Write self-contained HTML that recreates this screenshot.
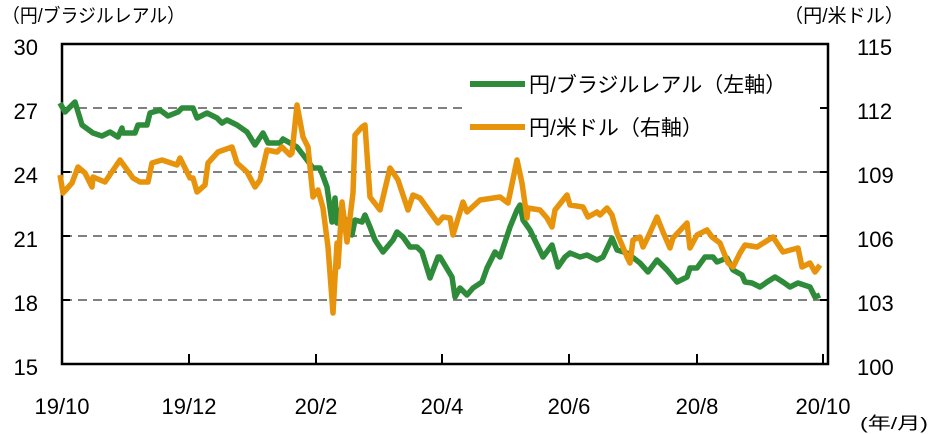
<!DOCTYPE html>
<html><head><meta charset="utf-8"><style>
body{margin:0;background:#fff;}
svg{display:block;}
text{font-family:"Liberation Sans","Noto Sans CJK JP",sans-serif;fill:#000;}
</style></head><body>
<svg width="934" height="434" viewBox="0 0 934 434" xmlns="http://www.w3.org/2000/svg">
<g stroke="#808080" stroke-width="2" stroke-dasharray="9,6" fill="none">
<line x1="63" y1="108" x2="465" y2="108"/>
<line x1="63" y1="172" x2="827" y2="172"/>
<line x1="63" y1="236" x2="827" y2="236"/>
<line x1="63" y1="300" x2="827" y2="300"/>
</g>
<rect x="62" y="44" width="766" height="320" fill="none" stroke="#000" stroke-width="2.5"/>
<g stroke="#000" stroke-width="2">
<line x1="189" y1="364" x2="189" y2="354"/><line x1="316" y1="364" x2="316" y2="354"/>
<line x1="442" y1="364" x2="442" y2="354"/><line x1="569" y1="364" x2="569" y2="354"/>
<line x1="697" y1="364" x2="697" y2="354"/><line x1="823" y1="364" x2="823" y2="354"/>
<line x1="62" y1="108" x2="70" y2="108"/><line x1="62" y1="172" x2="70" y2="172"/><line x1="62" y1="236" x2="70" y2="236"/><line x1="62" y1="300" x2="70" y2="300"/>
<line x1="828" y1="108" x2="820" y2="108"/><line x1="828" y1="172" x2="820" y2="172"/><line x1="828" y1="236" x2="820" y2="236"/><line x1="828" y1="300" x2="820" y2="300"/>
</g>
<polyline fill="none" stroke="#2e8b3a" stroke-width="5.5" stroke-linejoin="round" points="60,103 65,112 75,102 82,125 93,133 102,136 110,132 118,137 122,128 123,133 135,133 138,125 147,125 150,113 160,110 168,116 178,112 182,108 193,108 197,118 207,113 217,118 222,123 227,120 237,125 247,132 255,145 263,133 268,143 280,143 283,139 297,147 307,160 313,168 320,168 327,187 332,222 335,198 337,223 340,210 347,223 352,235 355,220 362,222 365,215 370,227 375,240 383,252 393,240 397,232 403,237 410,247 417,247 422,252 430,278 438,257 440,257 452,277 455,297 460,288 467,295 473,288 482,282 487,268 495,252 500,257 510,227 517,210 520,205 523,220 530,230 543,257 552,245 558,267 565,257 570,253 580,257 587,255 597,260 603,257 612,238 617,250 627,253 640,263 648,272 657,260 667,270 677,282 687,277 690,268 697,268 705,257 713,257 717,262 727,258 733,270 742,275 745,282 752,283 760,287 767,282 775,277 783,282 790,287 798,283 810,287 815,297 820,295"/>
<polyline fill="none" stroke="#e8930c" stroke-width="5.5" stroke-linejoin="round" points="60,175 63,193 72,183 78,167 85,173 92,187 93,177 105,182 120,160 133,178 140,182 148,182 152,163 162,160 177,165 180,158 190,178 193,178 197,192 205,185 208,163 218,152 232,147 237,163 247,172 255,187 260,180 267,150 277,152 282,147 290,155 292,153 297,105 303,137 308,147 313,197 318,190 323,208 328,247 333,313 337,243 338,267 342,202 347,242 353,193 355,135 362,127 365,125 370,197 380,210 390,168 398,180 408,210 413,195 420,198 438,223 443,217 450,218 453,235 463,202 467,212 480,200 500,197 508,203 517,160 522,183 527,218 528,208 540,210 547,218 552,227 555,210 567,195 570,205 583,207 588,217 597,212 600,215 607,208 612,215 617,233 627,257 630,263 633,240 640,237 643,247 648,237 657,217 663,232 670,248 673,238 687,223 690,248 697,235 707,230 712,237 720,243 728,263 733,267 740,253 745,245 757,247 765,242 773,237 783,252 798,248 802,267 810,263 815,272 820,265"/>
<rect x="466" y="62" width="330" height="88" fill="#fff"/>
<line x1="470" y1="84" x2="525" y2="84" stroke="#2e8b3a" stroke-width="6"/>
<line x1="470" y1="127" x2="525" y2="127" stroke="#e8930c" stroke-width="6"/>
<text x="529" y="92" font-size="21">円/ブラジルレアル（左軸）</text>
<text x="529" y="135" font-size="21">円/米ドル（右軸）</text>
<text x="2" y="22" font-size="19" textLength="183" lengthAdjust="spacingAndGlyphs">（円/ブラジルレアル）</text>
<text x="784" y="22" font-size="19" textLength="120" lengthAdjust="spacingAndGlyphs">（円/米ドル）</text>
<g font-size="22" text-anchor="end">
<text x="38" y="55">30</text><text x="38" y="119">27</text><text x="38" y="183">24</text><text x="38" y="247">21</text><text x="38" y="311">18</text><text x="38" y="375">15</text>
</g>
<g font-size="22" text-anchor="start">
<text x="857" y="55">115</text><text x="857" y="119">112</text><text x="857" y="183">109</text><text x="857" y="247">106</text><text x="857" y="311">103</text><text x="857" y="375">100</text>
</g>
<g font-size="22" text-anchor="middle">
<text x="62" y="414">19/10</text><text x="189" y="414">19/12</text><text x="316" y="414">20/2</text><text x="442" y="414">20/4</text><text x="569" y="414">20/6</text><text x="697" y="414">20/8</text><text x="823" y="414">20/10</text>
</g>
<text x="860" y="429" font-size="17" textLength="68" lengthAdjust="spacingAndGlyphs">(年/月)</text>
</svg>
</body></html>
